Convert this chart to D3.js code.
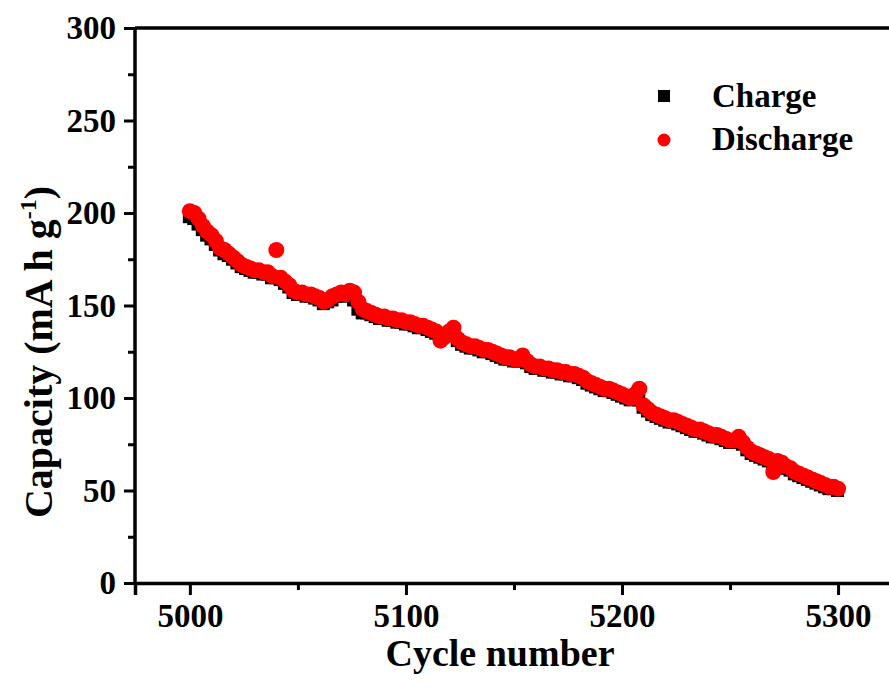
<!DOCTYPE html>
<html>
<head>
<meta charset="utf-8">
<script src="https://cdn.jsdelivr.net/npm/d3@7"></script>
<style>
  body { margin: 0; background: #fff; }
  text { font-family: "Liberation Serif", "Times New Roman", serif; font-weight: bold; fill: #000; }
</style>
</head>
<body>
<div id="chart"></div>
<script>
var w = 889, h = 689;
var margin = ({top: 28, right: -12, bottom: 106, left: 135});

// cycles sampled every 2 cycles, 5000..5300
var cycles = d3.range(5000, 5301, 2);

var discharge = [
  201, 200, 197, 193, 190, 188, 185, 181, 180, 178, 176, 174, 172, 171, 170, 169, 169, 168, 168, 166, 180, 165, 163, 161, 158, 157,
  157, 156, 156, 155, 154, 152, 153, 155, 156, 157, 156, 158, 157, 152, 148, 147, 146, 145, 144, 144, 143, 143, 142, 142, 141,
  141, 140, 139, 139, 138, 137, 136, 131, 133, 136, 138, 132, 130, 129, 128, 128, 127, 126, 126, 125, 124, 123, 122, 122, 121,
  121, 123, 120, 118, 117, 117, 116, 116, 115, 115, 114, 114, 113, 113, 112, 111, 109, 108, 107, 106, 105, 105, 104, 103, 102,
  101, 100, 102, 105, 96, 94, 92, 91, 90, 89, 88, 88, 87, 86, 85, 84, 83, 83, 82, 81, 80, 80, 79, 78, 77,
  77, 79, 76, 73, 71, 70, 69, 68, 67, 60, 66, 65, 63, 62, 60, 59, 58, 57, 56, 55, 54, 53, 52, 52, 51
];

var charge = [
  198, 197, 194, 191, 188, 186, 183, 180, 178, 177, 175, 173, 171, 170, 169, 168, 168, 167, 167, 165, 165, 164, 162, 160, 157, 156,
  156, 155, 155, 154, 153, 151, 152, 153, 155, 156, 155, 156, 153, 148, 146, 146, 145, 144, 143, 143, 142, 142, 141, 141, 140,
  140, 139, 138, 138, 137, 136, 135, 134, 134, 134, 134, 131, 129, 128, 127, 127, 126, 125, 125, 124, 123, 122, 121, 121, 120,
  120, 121, 119, 117, 116, 116, 115, 115, 114, 114, 113, 113, 112, 112, 111, 110, 108, 107, 106, 105, 104, 104, 103, 102, 101,
  100, 99, 100, 99, 95, 93, 91, 90, 89, 88, 87, 87, 86, 85, 84, 83, 82, 82, 81, 80, 79, 79, 78, 77, 76,
  76, 77, 75, 72, 70, 69, 68, 67, 66, 65, 65, 64, 62, 61, 59, 58, 57, 56, 55, 54, 53, 52, 51, 51, 50
];

var xTicks = [5000, 5100, 5200, 5300];
var xMinor = [5050, 5150, 5250];
var yTicks = [0, 50, 100, 150, 200, 250, 300];
var yMinor = [25, 75, 125, 175, 225, 275];

var legendItems = ["Charge", "Discharge"];

var xScale = d3.scaleLinear()
  .domain([4974.6, 5300 + (w - margin.right - 838) / 2.163])
  .range([margin.left, w - margin.right]);

var yScale = d3.scaleLinear()
  .domain([0, 300])
  .range([h - margin.bottom, margin.top]);

var svg = d3.select("#chart")
  .append("svg")
  .attr("width", w)
  .attr("height", h)
  .style("background", "#fff");

// charge squares first, discharge circles on top
svg.append("g")
  .selectAll("rect")
  .data(charge)
  .enter()
  .append("rect")
  .attr("x", function(d, i) { return xScale(cycles[i]) - 7; })
  .attr("y", function(d) { return yScale(d) - 6.5; })
  .attr("width", 13)
  .attr("height", 13)
  .attr("fill", "#000");

svg.append("g")
  .selectAll("circle")
  .data(discharge)
  .enter()
  .append("circle")
  .attr("cx", function(d, i) { return xScale(cycles[i]); })
  .attr("cy", function(d) { return yScale(d); })
  .attr("r", 8)
  .attr("fill", "#f00");

// axes
var xAxis = svg.append("g")
  .attr("transform", "translate(0," + (h - margin.bottom) + ")")
  .call(d3.axisBottom(xScale).tickValues(xTicks).tickSize(12).tickPadding(9).tickFormat(d3.format("d")));
var xAxisMinor = svg.append("g")
  .attr("transform", "translate(0," + (h - margin.bottom) + ")")
  .call(d3.axisBottom(xScale).tickValues(xMinor).tickSize(7).tickFormat(""));

var yAxis = svg.append("g")
  .attr("transform", "translate(" + margin.left + ",0)")
  .call(d3.axisLeft(yScale).tickValues(yTicks).tickSize(11).tickPadding(8));
var yAxisMinor = svg.append("g")
  .attr("transform", "translate(" + margin.left + ",0)")
  .call(d3.axisLeft(yScale).tickValues(yMinor).tickSize(7).tickFormat(""));

svg.selectAll(".domain").attr("stroke-width", 3.5).attr("stroke", "#000");
svg.selectAll(".tick line").attr("stroke-width", 3).attr("stroke", "#000");
svg.selectAll(".tick text").attr("font-size", 33).style("font-family", "'Liberation Serif', 'Times New Roman', serif").style("font-weight", "bold").attr("fill", "#000");
yAxis.selectAll(".domain").attr("d", "M0," + margin.top + "V" + (h - margin.bottom));
yAxisMinor.select(".domain").remove();
xAxisMinor.select(".domain").remove();

// top frame line
svg.append("line")
  .attr("x1", margin.left).attr("x2", w)
  .attr("y1", margin.top).attr("y2", margin.top)
  .attr("stroke", "#000").attr("stroke-width", 3.5);

// axis titles
svg.append("text")
  .attr("x", 500)
  .attr("y", 666)
  .attr("text-anchor", "middle")
  .attr("font-size", 38)
  .text("Cycle number");

var ylab = svg.append("text")
  .attr("transform", "translate(52," + 352 + ") rotate(-90)")
  .attr("text-anchor", "middle")
  .attr("font-size", 40);
ylab.append("tspan").text("Capacity (mA h g");
ylab.append("tspan").attr("font-size", 24).attr("dy", -16).text("-1");
ylab.append("tspan").attr("dy", 16).text(")");

// legend
var legend = svg.append("g");
legend.append("rect")
  .attr("x", 658).attr("y", 90).attr("width", 12).attr("height", 12)
  .attr("fill", "#000");
legend.append("circle")
  .attr("cx", 664).attr("cy", 140).attr("r", 6.5)
  .attr("fill", "#f00");
legend.selectAll(".legendlabel")
  .data(legendItems)
  .enter()
  .append("text")
  .attr("x", 712)
  .attr("y", function(d, i) { return 107 + i * 43; })
  .attr("font-size", 33)
  .text(function(d) { return d; });
</script>
</body>
</html>
